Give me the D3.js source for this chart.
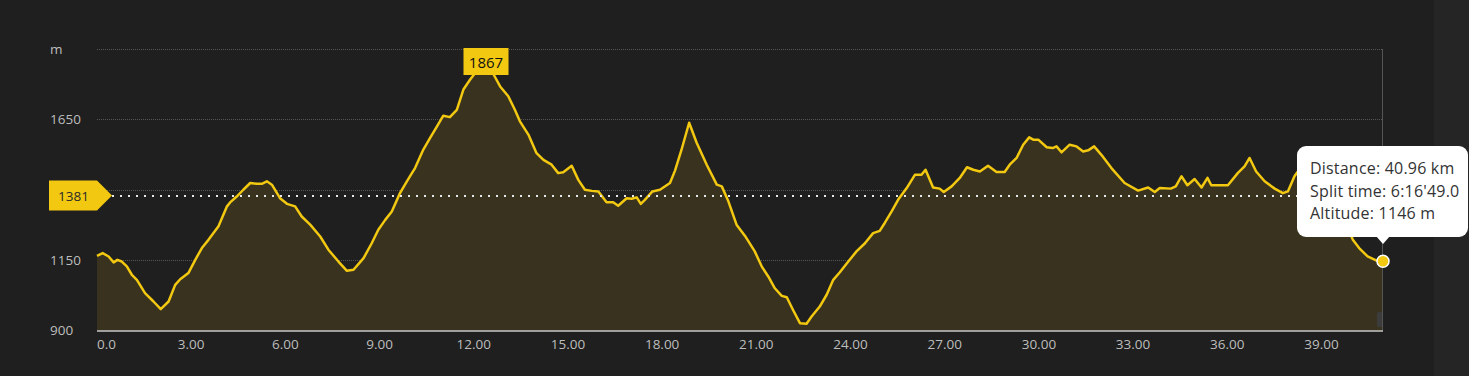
<!DOCTYPE html>
<html><head><meta charset="utf-8">
<script src="https://cdn.jsdelivr.net/npm/d3@7/dist/d3.min.js"></script>
<style>
html,body{margin:0;padding:0;background:#1f1f1f;overflow:hidden;}
svg{display:block;font-family:"Open Sans",sans-serif;}
</style></head>
<body>
<svg id="chart" width="1469" height="376"></svg>
<script>
const distances = [0.0,0.18,0.37,0.53,0.65,0.79,0.95,1.11,1.27,1.53,1.80,2.03,2.28,2.49,2.65,2.91,3.13,3.34,3.55,3.87,4.14,4.24,4.45,4.66,4.88,5.09,5.25,5.41,5.57,5.83,6.05,6.31,6.52,6.79,7.11,7.37,7.69,7.96,8.17,8.49,8.75,8.96,9.18,9.39,9.65,9.87,10.03,10.13,10.39,10.61,10.82,11.03,11.24,11.46,11.67,11.88,12.04,12.2,12.39,12.5,12.62,12.84,13.10,13.31,13.47,13.74,14.0,14.22,14.48,14.69,14.85,15.12,15.33,15.54,15.76,15.97,16.23,16.44,16.6,16.87,17.03,17.19,17.32,17.45,17.69,17.93,18.25,18.41,18.62,18.86,19.1,19.42,19.74,19.9,20.11,20.37,20.64,20.95,21.17,21.38,21.59,21.81,21.97,22.17,22.39,22.6,22.76,23.02,23.24,23.45,23.66,23.93,24.19,24.46,24.72,24.93,25.09,25.31,25.52,25.79,26.05,26.26,26.39,26.63,26.84,26.97,27.22,27.48,27.71,27.91,28.12,28.38,28.65,28.91,29.07,29.29,29.5,29.69,29.82,29.98,30.25,30.44,30.56,30.72,30.98,31.2,31.41,31.57,31.76,31.99,32.31,32.73,33.16,33.48,33.69,33.85,34.2,34.36,34.54,34.73,34.96,35.18,35.37,35.49,35.81,36.02,36.34,36.55,36.71,36.92,37.19,37.51,37.77,37.93,38.14,38.25,38.5,38.8,39.1,39.4,39.7,40.0,40.2,40.47,40.74,40.96];
const altitudes = [1165,1175,1163,1142,1151,1145,1128,1098,1080,1033,1003,976,1003,1062,1082,1104,1151,1193,1222,1270,1341,1355,1376,1400,1424,1421,1421,1430,1418,1370,1350,1341,1305,1276,1234,1187,1145,1112,1116,1157,1210,1258,1293,1323,1388,1430,1459,1477,1542,1584,1623,1663,1658,1684,1756,1791,1814,1850,1867,1848,1812,1767,1732,1684,1643,1596,1530,1506,1489,1459,1462,1485,1435,1400,1396,1394,1356,1356,1343,1370,1368,1373,1350,1364,1394,1400,1424,1468,1543,1638,1567,1489,1418,1412,1359,1276,1236,1181,1128,1092,1050,1023,1018,973,926,924,950,985,1027,1080,1107,1145,1181,1210,1246,1254,1282,1323,1365,1406,1453,1453,1471,1408,1404,1392,1412,1442,1480,1471,1465,1485,1463,1463,1489,1513,1560,1586,1578,1578,1551,1548,1554,1533,1560,1554,1536,1540,1554,1524,1477,1424,1397,1408,1392,1406,1404,1412,1448,1416,1438,1408,1442,1416,1416,1416,1460,1483,1513,1465,1430,1404,1388,1394,1448,1465,1478,1468,1435,1385,1305,1222,1193,1163,1149,1146];
const xTicks = [0,3,6,9,12,15,18,21,24,27,30,33,36,39];
const yTicks = [900,1150,1400,1650,1900];
const yTickLabels = ["900","1150","","1650","m"];
const maxAltitude = 1867, maxAltitudeKm = 12.39;
const avgAltitude = 1381;
const tipLines = ["Distance: 40.96 km","Split time: 6:16'49.0","Altitude: 1146 m"];

const data = distances.map((d,i)=>({d, a: altitudes[i]}));
const svg = d3.select("#chart");
svg.append("rect").attr("x",0).attr("y",0).attr("width",1434).attr("height",376).attr("fill","#1f1f1f");
svg.append("rect").attr("x",1434).attr("y",0).attr("width",35).attr("height",376).attr("fill","#252525");

const x = d3.scaleLinear().domain([0,40.96]).range([97,1383]);
const y = d3.scaleLinear().domain([900,1900]).range([330.5,49]);

// grid
svg.append("g").selectAll("line").data(yTicks.slice(1)).join("line")
  .attr("x1",97).attr("x2",1383).attr("y1",d=>Math.round(y(d))+0.5).attr("y2",d=>Math.round(y(d))+0.5)
  .attr("stroke","#555").attr("stroke-width",1).attr("stroke-dasharray","1,1");

// y labels
svg.append("g").selectAll("text").data(yTicks).join("text")
  .attr("x",50).attr("y",d=>y(d)+4.5).text((d,i)=>yTickLabels[i])
  .attr("fill","#bdbdbd").attr("font-size","13.5px");

// area + line
const area = d3.area().x(d=>x(d.d)).y0(y(900)).y1(d=>y(d.a));
svg.append("path").datum(data).attr("d",area).attr("fill","#38321f");
const line = d3.line().x(d=>x(d.d)).y(d=>y(d.a));
svg.append("path").datum(data).attr("d",line).attr("fill","none")
  .attr("stroke","#f2c811").attr("stroke-width",2.5).attr("stroke-linejoin","round");

// x axis line
svg.append("line").attr("x1",97).attr("x2",1383).attr("y1",331).attr("y2",331)
  .attr("stroke","#c8c8c8").attr("stroke-width",1.5);

// x labels
svg.append("g").selectAll("text").data(xTicks).join("text")
  .attr("x",d=>x(d)).attr("y",349)
  .attr("text-anchor",d=>d===0?"start":"middle")
  .text(d=>d===0?"0.0":d.toFixed(2))
  .attr("fill","#bdbdbd").attr("font-size","13.5px");

// scrollbar-ish small rect
svg.append("rect").attr("x",1377).attr("y",312).attr("width",6).attr("height",15).attr("rx",1.5).attr("fill","#3c3c3c");

// crosshair
svg.append("line").attr("x1",x(40.96)-0.5).attr("x2",x(40.96)-0.5).attr("y1",49).attr("y2",330)
  .attr("stroke","#555").attr("stroke-width",1);

// avg line
const ay = y(avgAltitude);
svg.append("line").attr("x1",112).attr("x2",1383).attr("y1",ay+1).attr("y2",ay+1)
  .attr("stroke","#e8e8e8").attr("stroke-width",2).attr("stroke-dasharray","2,6");
svg.append("path").attr("d",`M49,${ay-14.5}L97,${ay-14.5}L112,${ay+0.5}L97,${ay+15.5}L49,${ay+15.5}Z`)
  .attr("fill","#f2c811");
svg.append("text").attr("x",58).attr("y",ay+6).text(avgAltitude).attr("fill","#2a2a2a").attr("font-size","13.5px");

// max label
const mx = x(maxAltitudeKm);
svg.append("rect").attr("x",mx-22.5).attr("y",48).attr("width",45).attr("height",27).attr("fill","#f2c811");
svg.append("text").attr("x",mx).attr("y",67.5).attr("text-anchor","middle").text(maxAltitude)
  .attr("fill","#111").attr("font-size","15px");

// tooltip
const g = svg.append("g");
g.append("rect").attr("x",1297).attr("y",146).attr("width",171).attr("height",91).attr("rx",9).attr("fill","#fff");
g.append("path").attr("d",`M${x(40.96)-7},236L${x(40.96)},244L${x(40.96)+7},236Z`).attr("fill","#fff");
g.selectAll("text").data(tipLines).join("text").attr("x",1310).attr("y",(d,i)=>174+i*22.5)
  .text(d=>d).attr("fill","#333").attr("font-size","16px").attr("letter-spacing","0.2px");

// hover point
const last = data[data.length-1];
svg.append("circle").attr("cx",x(last.d)).attr("cy",y(last.a)).attr("r",6)
  .attr("fill","#f2c811").attr("stroke","#fff").attr("stroke-width",1.5);
</script>
</body></html>
